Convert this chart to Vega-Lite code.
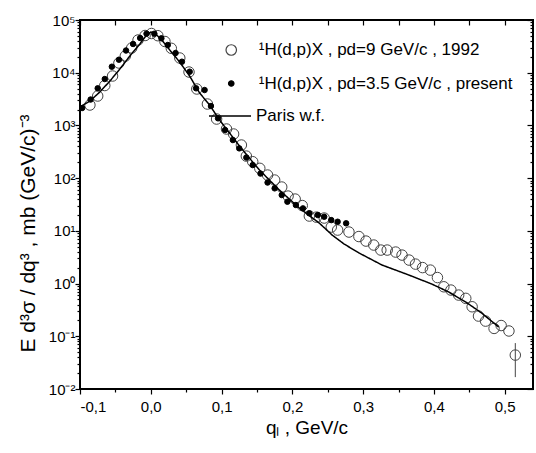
{
  "$schema": "https://vega.github.io/schema/vega-lite/v6.json",
  "autosize": {"type": "none"},
  "width": 453,
  "height": 369,
  "padding": {"left": 80, "top": 20, "right": 3, "bottom": 64},
  "background": "white",
  "config": {
    "font": "Liberation Sans",
    "view": {"stroke": "black", "strokeWidth": 2},
    "axis": {"labelColor": "black", "titleColor": "black", "tickColor": "black", "tickWidth": 1.2, "domain": false, "grid": false, "labelFont": "Liberation Sans", "titleFont": "Liberation Sans", "titleFontWeight": "normal"},
    "legend": {"orient": "none", "padding": 0, "labelFontSize": 17, "labelFont": "Liberation Sans", "labelColor": "black", "symbolStrokeWidth": 1.2, "labelLimit": 400}
  },
  "datasets": {
    "open": [
      {"q": -0.086, "y": 2438, "s": "a"}, {"q": -0.075, "y": 3614, "s": "a"}, {"q": -0.065, "y": 5715, "s": "a"}, {"q": -0.054, "y": 8656, "s": "a"}, {"q": -0.045, "y": 15280, "s": "a"}, {"q": -0.036, "y": 20750, "s": "a"}, {"q": -0.027, "y": 29430, "s": "a"}, {"q": -0.018, "y": 41700, "s": "a"}, {"q": -0.008, "y": 50800, "s": "a"}, {"q": 0.001, "y": 55450, "s": "a"}, {"q": 0.010, "y": 50350, "s": "a"}, {"q": 0.020, "y": 39080, "s": "a"}, {"q": 0.029, "y": 29040, "s": "a"}, {"q": 0.041, "y": 19010, "s": "a"}, {"q": 0.054, "y": 10300, "s": "a"}, {"q": 0.065, "y": 4909, "s": "a"}, {"q": 0.080, "y": 2547, "s": "a"}, {"q": 0.093, "y": 1322, "s": "a"}, {"q": 0.107, "y": 855, "s": "a"}, {"q": 0.117, "y": 687, "s": "a"}, {"q": 0.128, "y": 425, "s": "a"}, {"q": 0.135, "y": 262, "s": "a"}, {"q": 0.144, "y": 205, "s": "a"}, {"q": 0.154, "y": 153.5, "s": "a"}, {"q": 0.165, "y": 114.5, "s": "a"}, {"q": 0.175, "y": 92, "s": "a"}, {"q": 0.185, "y": 67.8, "s": "a"}, {"q": 0.194, "y": 45.7, "s": "a"}, {"q": 0.204, "y": 40.1, "s": "a"}, {"q": 0.214, "y": 30.2, "s": "a"}, {"q": 0.224, "y": 19.1, "s": "a"}, {"q": 0.234, "y": 18.2, "s": "a"}, {"q": 0.245, "y": 17.5, "s": "a"}, {"q": 0.255, "y": 11.8, "s": "a"}, {"q": 0.264, "y": 10.35, "s": "a"}, {"q": 0.280, "y": 9.49, "s": "a"}, {"q": 0.294, "y": 7.80, "s": "a"}, {"q": 0.304, "y": 6.40, "s": "a"}, {"q": 0.315, "y": 5.38, "s": "a"}, {"q": 0.325, "y": 4.32, "s": "a"}, {"q": 0.334, "y": 4.32, "s": "a"}, {"q": 0.346, "y": 3.96, "s": "a"}, {"q": 0.355, "y": 3.47, "s": "a"}, {"q": 0.365, "y": 2.79, "s": "a"}, {"q": 0.374, "y": 2.34, "s": "a"}, {"q": 0.384, "y": 2.01, "s": "a"}, {"q": 0.395, "y": 1.80, "s": "a"}, {"q": 0.405, "y": 1.30, "s": "a"}, {"q": 0.414, "y": 0.869, "s": "a"}, {"q": 0.424, "y": 0.753, "s": "a"}, {"q": 0.435, "y": 0.605, "s": "a"}, {"q": 0.445, "y": 0.524, "s": "a"}, {"q": 0.454, "y": 0.363, "s": "a"}, {"q": 0.463, "y": 0.242, "s": "a"}, {"q": 0.473, "y": 0.194, "s": "a"}, {"q": 0.485, "y": 0.141, "s": "a"}, {"q": 0.495, "y": 0.160, "s": "a"}, {"q": 0.506, "y": 0.126, "s": "a"}, {"q": 0.515, "y": 0.044, "s": "a"}
    ],
    "filled": [
      {"q": -0.097, "y": 2138, "s": "b"}, {"q": -0.085, "y": 3099, "s": "b"}, {"q": -0.075, "y": 5058, "s": "b"}, {"q": -0.065, "y": 7590, "s": "b"}, {"q": -0.055, "y": 13000, "s": "b"}, {"q": -0.045, "y": 17650, "s": "b"}, {"q": -0.035, "y": 26380, "s": "b"}, {"q": -0.025, "y": 35060, "s": "b"}, {"q": -0.015, "y": 45530, "s": "b"}, {"q": -0.006, "y": 54950, "s": "b"}, {"q": 0.005, "y": 54950, "s": "b"}, {"q": 0.015, "y": 44970, "s": "b"}, {"q": 0.024, "y": 33560, "s": "b"}, {"q": 0.035, "y": 23640, "s": "b"}, {"q": 0.044, "y": 16170, "s": "b"}, {"q": 0.055, "y": 10450, "s": "b"}, {"q": 0.064, "y": 5058, "s": "b"}, {"q": 0.076, "y": 4695, "s": "b"}, {"q": 0.085, "y": 2333, "s": "b"}, {"q": 0.095, "y": 1364, "s": "b"}, {"q": 0.105, "y": 818, "s": "b"}, {"q": 0.116, "y": 528, "s": "b"}, {"q": 0.125, "y": 367, "s": "b"}, {"q": 0.135, "y": 246, "s": "b"}, {"q": 0.144, "y": 177, "s": "b"}, {"q": 0.155, "y": 122, "s": "b"}, {"q": 0.165, "y": 82.5, "s": "b"}, {"q": 0.175, "y": 64.0, "s": "b"}, {"q": 0.185, "y": 47.8, "s": "b"}, {"q": 0.193, "y": 35.7, "s": "b"}, {"q": 0.205, "y": 30.9, "s": "b"}, {"q": 0.215, "y": 26.7, "s": "b"}, {"q": 0.224, "y": 21.5, "s": "b"}, {"q": 0.236, "y": 19.95, "s": "b"}, {"q": 0.245, "y": 18.5, "s": "b"}, {"q": 0.255, "y": 16.0, "s": "b"}, {"q": 0.264, "y": 14.9, "s": "b"}, {"q": 0.276, "y": 13.9, "s": "b"}
    ],
    "paris": [
      {"q": -0.1, "y": 2234, "s": "c"}, {"q": -0.086, "y": 2904, "s": "c"}, {"q": -0.072, "y": 4305, "s": "c"}, {"q": -0.0577, "y": 6966, "s": "c"}, {"q": -0.0437, "y": 11750, "s": "c"}, {"q": -0.0296, "y": 20750, "s": "c"}, {"q": -0.0155, "y": 35060, "s": "c"}, {"q": -0.007, "y": 49700, "s": "c"}, {"q": 0.0, "y": 59200, "s": "c"}, {"q": 0.007, "y": 54200, "s": "c"}, {"q": 0.0155, "y": 41700, "s": "c"}, {"q": 0.0268, "y": 26980, "s": "c"}, {"q": 0.0408, "y": 15960, "s": "c"}, {"q": 0.0549, "y": 8650, "s": "c"}, {"q": 0.069, "y": 4120, "s": "c"}, {"q": 0.0831, "y": 2440, "s": "c"}, {"q": 0.0972, "y": 1265, "s": "c"}, {"q": 0.1113, "y": 718, "s": "c"}, {"q": 0.1254, "y": 406, "s": "c"}, {"q": 0.1394, "y": 240, "s": "c"}, {"q": 0.1535, "y": 142.6, "s": "c"}, {"q": 0.1676, "y": 92, "s": "c"}, {"q": 0.1817, "y": 59.4, "s": "c"}, {"q": 0.1958, "y": 40.1, "s": "c"}, {"q": 0.2099, "y": 27.1, "s": "c"}, {"q": 0.2211, "y": 20.8, "s": "c"}, {"q": 0.238, "y": 14.06, "s": "c"}, {"q": 0.2563, "y": 8.32, "s": "c"}, {"q": 0.2732, "y": 5.62, "s": "c"}, {"q": 0.2944, "y": 3.79, "s": "c"}, {"q": 0.3268, "y": 2.245, "s": "c"}, {"q": 0.3648, "y": 1.449, "s": "c"}, {"q": 0.3972, "y": 0.977, "s": "c"}, {"q": 0.4211, "y": 0.690, "s": "c"}, {"q": 0.4451, "y": 0.446, "s": "c"}, {"q": 0.4676, "y": 0.275, "s": "c"}, {"q": 0.4915, "y": 0.150, "s": "c"}
    ],
    "err": [{"q": 0.515, "lo": 0.0168, "hi": 0.0743}]
  },
  "resolve": {"axis": {"x": "independent", "y": "independent"}},
  "layer": [
    {
      "data": {"name": "open"},
      "mark": {"type": "point", "filled": true, "strokeWidth": 1, "opacity": 1},
      "encoding": {
        "x": {"field": "q", "type": "quantitative", "scale": {"domain": [-0.1, 0.54], "nice": false, "zero": false},
              "axis": {"orient": "bottom", "values": [-0.05, 0.05, 0.15, 0.25, 0.35, 0.45], "labels": false, "tickSize": 3, "title": null}},
        "y": {"field": "y", "type": "quantitative", "scale": {"type": "log", "domain": [0.01, 100000], "nice": false},
              "axis": {"orient": "left", "values": [0.02,0.03,0.04,0.05,0.06,0.07,0.08,0.09,0.2,0.3,0.4,0.5,0.6,0.7,0.8,0.9,2,3,4,5,6,7,8,9,20,30,40,50,60,70,80,90,200,300,400,500,600,700,800,900,2000,3000,4000,5000,6000,7000,8000,9000,20000,30000,40000,50000,60000,70000,80000,90000], "labels": false, "tickSize": 3, "title": null}},
        "shape": {"field": "s", "type": "nominal", "title": null, "scale": {"domain": ["a", "b"], "range": ["circle", "circle"]},
                  "legend": {"legendX": 142.75, "legendY": 21.5, "rowPadding": 15.5, "labelOffset": 19, "labelExpr": "datum.value == 'a' ? '¹H(d,p)X , pd=9 GeV/c , 1992' : '¹H(d,p)X , pd=3.5 GeV/c , present'"}},
        "fill": {"field": "s", "type": "nominal", "title": null, "scale": {"domain": ["a", "b"], "range": ["transparent", "black"]}},
        "stroke": {"field": "s", "type": "nominal", "title": null, "scale": {"domain": ["a", "b"], "range": ["#444444", "black"]}},
        "size": {"field": "s", "type": "nominal", "title": null, "scale": {"type": "ordinal", "domain": ["a", "b"], "range": [110, 30]}}
      }
    },
    {
      "data": {"name": "paris"},
      "mark": {"type": "line", "strokeWidth": 1.5, "color": "black"},
      "encoding": {
        "x": {"field": "q", "type": "quantitative", "scale": {"domain": [-0.1, 0.54], "nice": false, "zero": false},
              "axis": {"orient": "bottom", "values": [-0.1, 0, 0.1, 0.2, 0.3, 0.4, 0.5], "labelExpr": "replace(replace(format(datum.value, '.1f'), '.', ','), '−', '-')", "tickSize": 5, "labelPadding": 5, "labelFontSize": 15, "title": "qₗ , GeV/c", "titleFontSize": 19, "titlePadding": 4}},
        "y": {"field": "y", "type": "quantitative", "scale": {"type": "log", "domain": [0.01, 100000], "nice": false},
              "axis": {"orient": "left", "values": [0.01, 0.1, 1, 10, 100, 1000, 10000, 100000], "labelExpr": "['10⁻²','10⁻¹','10⁰','10¹','10²','10³','10⁴','10⁵'][round(log(datum.value)/LN10)+2]", "tickSize": 5, "labelPadding": 0, "labelFontSize": 15, "title": "E d³σ / dq³ , mb (GeV/c)⁻³", "titleFontSize": 21, "titlePadding": 10, "titleY": 213}},
        "strokeDash": {"field": "s", "type": "nominal", "title": null, "scale": {"domain": ["c"], "range": [[1, 0]]},
                       "legend": {"legendX": 128, "legendY": 74, "symbolType": "stroke", "symbolSize": 1764, "symbolStrokeColor": "black", "symbolStrokeWidth": 1.5, "labelOffset": 4, "labelExpr": "'Paris w.f.'"}}
      }
    },
    {
      "data": {"name": "filled"},
      "mark": {"type": "point", "filled": true, "strokeWidth": 1, "opacity": 1},
      "encoding": {
        "x": {"field": "q", "type": "quantitative", "scale": {"domain": [-0.1, 0.54], "nice": false, "zero": false},
              "axis": {"orient": "top", "values": [-0.1, -0.05, 0, 0.05, 0.1, 0.15, 0.2, 0.25, 0.3, 0.35, 0.4, 0.45, 0.5], "labels": false, "tickSize": -5, "title": null}},
        "y": {"field": "y", "type": "quantitative", "scale": {"type": "log", "domain": [0.01, 100000], "nice": false},
              "axis": {"orient": "right", "values": [0.01, 0.1, 1, 10, 100, 1000, 10000, 100000], "labels": false, "tickSize": -6, "title": null}},
        "shape": {"field": "s", "type": "nominal", "title": null, "scale": {"domain": ["a", "b"], "range": ["circle", "circle"]}},
        "fill": {"field": "s", "type": "nominal", "title": null, "scale": {"domain": ["a", "b"], "range": ["transparent", "black"]}},
        "stroke": {"field": "s", "type": "nominal", "title": null, "scale": {"domain": ["a", "b"], "range": ["#444444", "black"]}},
        "size": {"field": "s", "type": "nominal", "title": null, "scale": {"type": "ordinal", "domain": ["a", "b"], "range": [110, 30]}}
      }
    },
    {
      "data": {"name": "err"},
      "mark": {"type": "rule", "color": "#444444", "strokeWidth": 1},
      "encoding": {
        "x": {"field": "q", "type": "quantitative", "scale": {"domain": [-0.1, 0.54], "nice": false, "zero": false}, "axis": null},
        "y": {"field": "lo", "type": "quantitative", "scale": {"type": "log", "domain": [0.01, 100000], "nice": false},
              "axis": {"orient": "right", "values": [0.02,0.03,0.04,0.05,0.06,0.07,0.08,0.09,0.2,0.3,0.4,0.5,0.6,0.7,0.8,0.9,2,3,4,5,6,7,8,9,20,30,40,50,60,70,80,90,200,300,400,500,600,700,800,900,2000,3000,4000,5000,6000,7000,8000,9000,20000,30000,40000,50000,60000,70000,80000,90000], "labels": false, "tickSize": -3, "title": null}},
        "y2": {"field": "hi"}
      }
    }
  ]
}
